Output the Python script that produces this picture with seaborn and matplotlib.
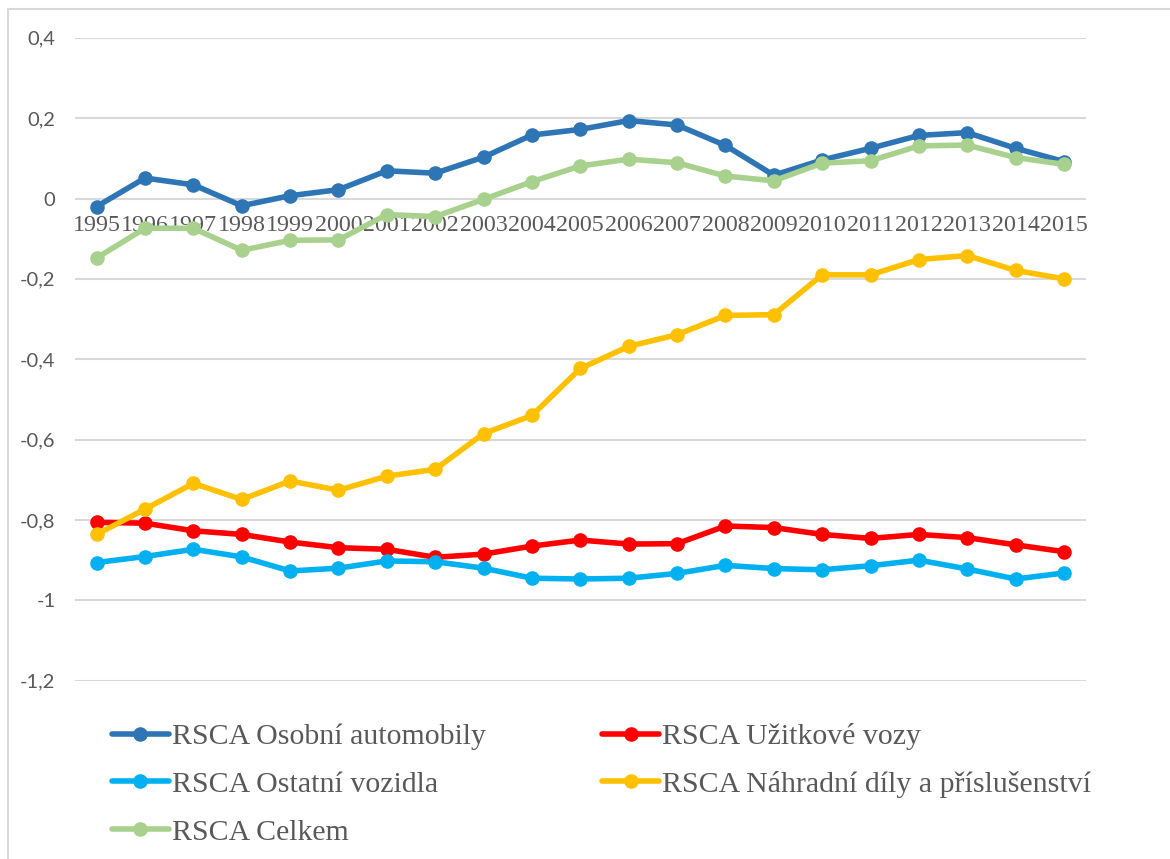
import numpy as np
import pandas as pd
import matplotlib
matplotlib.use("Agg")
import matplotlib.pyplot as plt
from matplotlib.lines import Line2D
from matplotlib.ticker import FuncFormatter
import seaborn as sns

years = list(range(1995, 2016))

series_names = [
    "RSCA Osobní automobily",
    "RSCA Užitkové vozy",
    "RSCA Ostatní vozidla",
    "RSCA Náhradní díly a příslušenství",
    "RSCA Celkem",
]

osobni = [-0.020, 0.051, 0.034, -0.018, 0.007, 0.022, 0.069, 0.063, 0.103, 0.158,
          0.172, 0.194, 0.183, 0.132, 0.058, 0.096, 0.125, 0.157, 0.164, 0.125, 0.092]
uzitkove = [-0.806, -0.808, -0.827, -0.836, -0.855, -0.869, -0.873, -0.893, -0.885, -0.865,
            -0.850, -0.860, -0.859, -0.815, -0.819, -0.836, -0.846, -0.836, -0.844, -0.862, -0.879]
ostatni = [-0.906, -0.891, -0.873, -0.892, -0.927, -0.920, -0.902, -0.904, -0.920, -0.945,
           -0.947, -0.945, -0.933, -0.913, -0.921, -0.924, -0.914, -0.900, -0.922, -0.947, -0.932]
nahradni = [-0.836, -0.773, -0.709, -0.749, -0.703, -0.726, -0.691, -0.674, -0.585, -0.540,
            -0.423, -0.368, -0.339, -0.291, -0.289, -0.190, -0.190, -0.152, -0.142, -0.179, -0.200]
celkem = [-0.148, -0.074, -0.074, -0.129, -0.104, -0.103, -0.040, -0.045, -0.002, 0.042,
          0.081, 0.098, 0.089, 0.056, 0.044, 0.088, 0.094, 0.131, 0.133, 0.102, 0.085]

colors = ["#2E75B6", "#FF0000", "#00B0F0", "#FFC000", "#A9D18E"]

y_ticks = [-1.2, -1.0, -0.8, -0.6, -0.4, -0.2, 0.0, 0.2, 0.4]

values = [osobni, uzitkove, ostatni, nahradni, celkem]
df = pd.concat(
    [pd.DataFrame({"rok": years, "RSCA": v, "řada": name}) for name, v in zip(series_names, values)],
    ignore_index=True,
)

sns.set_theme(style="white")
plt.rcParams["font.family"] = ["Liberation Serif", "DejaVu Serif"]

fig = plt.figure(figsize=(11.70, 8.59), dpi=100)
ax = fig.add_axes([0.064, 0.2076, 0.864, 0.7484])

LW = 4.0
MS = 10.5

palette = dict(zip(series_names, colors))
sns.lineplot(
    data=df, x="rok", y="RSCA", hue="řada", hue_order=series_names, palette=palette,
    marker="o", markersize=MS, markeredgewidth=0, linewidth=LW, legend=False, ax=ax,
)

ax.set_xlim(1994.55, 2015.45)
ax.set_ylim(-1.2, 0.4)
ax.set_yticks(y_ticks)
ax.set_xticks(years)
ax.set_xticklabels([str(y) for y in years])

def comma_fmt(v, _pos):
    v = round(v, 1)
    if v == 0:
        return "0"
    return f"{v:g}".replace(".", ",")

ax.yaxis.set_major_formatter(FuncFormatter(comma_fmt))

ax.grid(axis="y", color="#D9D9D9", linewidth=1.5)
ax.grid(axis="x", visible=False)
ax.set_axisbelow(True)
for side in ["top", "right", "left", "bottom"]:
    ax.spines[side].set_visible(False)
ax.spines["bottom"].set_position(("data", 0))

ax.tick_params(axis="x", length=0, pad=12, labelsize=17.3, labelcolor="#595959")
ax.tick_params(axis="y", length=0, pad=14, labelsize=14.5, labelcolor="#595959")
for lbl in ax.get_yticklabels():
    lbl.set_fontfamily(["Lato", "DejaVu Sans"])
ax.set_xlabel("")
ax.set_ylabel("")

# legend: two columns, filled column by column
order = [0, 2, 4, 1, 3]
handles = [
    Line2D([], [], color=colors[i], linewidth=LW, marker="o", markersize=MS, markeredgewidth=0)
    for i in order
]
labels = [series_names[i] for i in order]
leg = fig.legend(
    handles, labels, ncol=2, loc="upper left",
    bbox_to_anchor=(112 / 1170, 1 - 723 / 859),
    frameon=False, fontsize=21.5, handlelength=1.9, handletextpad=0.1,
    columnspacing=3.9, labelspacing=0.7, borderpad=0, borderaxespad=0,
)
for t in leg.get_texts():
    t.set_color("#595959")

# light outer frame along the top and left edges
fig.add_artist(Line2D([8 / 1170, 1], [1 - 9 / 859, 1 - 9 / 859], transform=fig.transFigure,
                      color="#D9D9D9", linewidth=1.5))
fig.add_artist(Line2D([8 / 1170, 8 / 1170], [0, 1 - 9 / 859], transform=fig.transFigure,
                      color="#D9D9D9", linewidth=1.5))

fig.savefig("out.png", dpi=100, facecolor="white")
